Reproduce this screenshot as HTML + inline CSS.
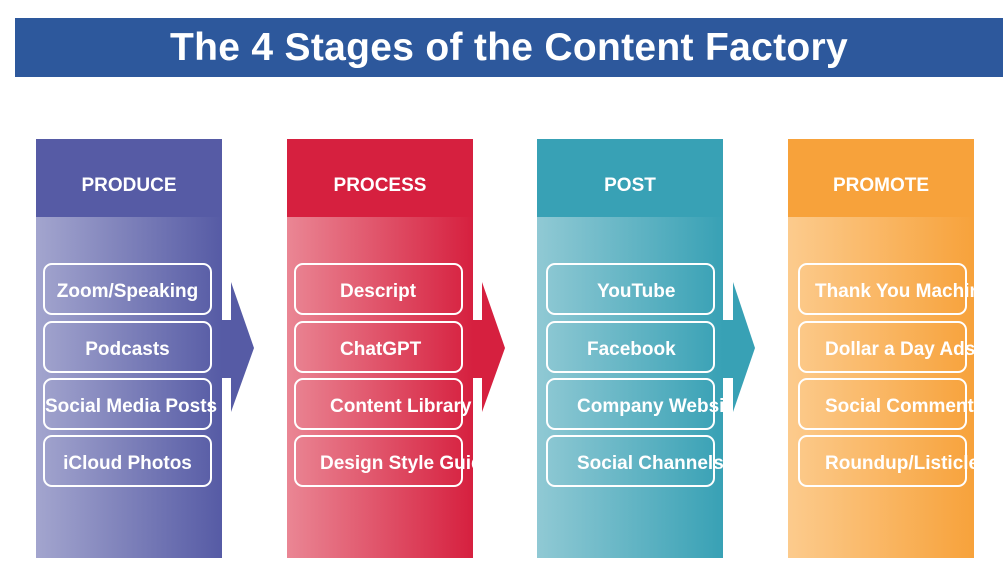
<!DOCTYPE html>
<html><head><style>
body{margin:0;width:1006px;height:580px;background:#fff;position:relative;overflow:hidden;font-family:"Liberation Sans",sans-serif}
.title{position:absolute;left:15px;top:18px;width:988px;height:59px;background:#2D589C;color:#fff;font-weight:bold;font-size:39px;line-height:59px;text-align:center;letter-spacing:0.3px}
.col{position:absolute;top:139px;width:186px;height:419px;overflow:hidden}
.hd{height:78px;color:#fff;font-weight:bold;font-size:19px;line-height:93px;text-align:center}
.bd{height:341px}
.box{position:absolute;left:7px;width:169px;height:52px;border:2px solid #fff;border-radius:9px;box-sizing:border-box;color:#fff;font-weight:bold;font-size:19px;line-height:54px;white-space:nowrap;text-align:center}
.arr{position:absolute}
</style></head><body>
<div class="title">The 4 Stages of the Content Factory</div>

<svg class="arr" style="left:0;top:0" width="1006" height="580">
<polygon points="222,320 231,320 231,282 254,348 231,412 231,378 222,378" fill="#565BA5"/>
<polygon points="473,320 482,320 482,282 505,348 482,412 482,378 473,378" fill="#D6203F"/>
<polygon points="723,320 733,320 733,282 755,348 733,412 733,378 723,378" fill="#38A1B5"/>
</svg>

<div class="col" style="left:36px">
<div class="hd" style="background:#565BA5">PRODUCE</div>
<div class="bd" style="background:linear-gradient(90deg,#A3A5CE,#565BA5)"></div>
<div class="box" style="top:124px">Zoom/Speaking</div>
<div class="box" style="top:182px">Podcasts</div>
<div class="box" style="top:239px">Social Media Posts</div>
<div class="box" style="top:296px">iCloud Photos</div>
</div>

<div class="col" style="left:287px">
<div class="hd" style="background:#D6203F">PROCESS</div>
<div class="bd" style="background:linear-gradient(90deg,#EA8694,#D6203F)"></div>
<div class="box" style="top:124px;text-align:left;padding-left:44px">Descript</div>
<div class="box" style="top:182px;text-align:left;padding-left:44px">ChatGPT</div>
<div class="box" style="top:239px;text-align:left;padding-left:34px">Content Library</div>
<div class="box" style="top:296px;text-align:left;padding-left:24px">Design Style Guide</div>
</div>

<div class="col" style="left:537px">
<div class="hd" style="background:#38A1B5">POST</div>
<div class="bd" style="background:linear-gradient(90deg,#90C9D4,#38A1B5)"></div>
<div class="box" style="top:124px;left:9px;text-align:left;padding-left:49px">YouTube</div>
<div class="box" style="top:182px;left:9px;text-align:left;padding-left:39px">Facebook</div>
<div class="box" style="top:239px;left:9px;text-align:left;padding-left:29px">Company Website</div>
<div class="box" style="top:296px;left:9px;text-align:left;padding-left:29px">Social Channels</div>
</div>

<div class="col" style="left:788px">
<div class="hd" style="background:#F7A23B">PROMOTE</div>
<div class="bd" style="background:linear-gradient(90deg,#FCCB8D,#F7A23B)"></div>
<div class="box" style="top:124px;left:10px;text-align:left;padding-left:15px">Thank You Machine</div>
<div class="box" style="top:182px;left:10px;text-align:left;padding-left:25px">Dollar a Day Ads</div>
<div class="box" style="top:239px;left:10px;text-align:left;padding-left:25px">Social Commenting</div>
<div class="box" style="top:296px;left:10px;text-align:left;padding-left:25px">Roundup/Listicle</div>
</div>
</body></html>
